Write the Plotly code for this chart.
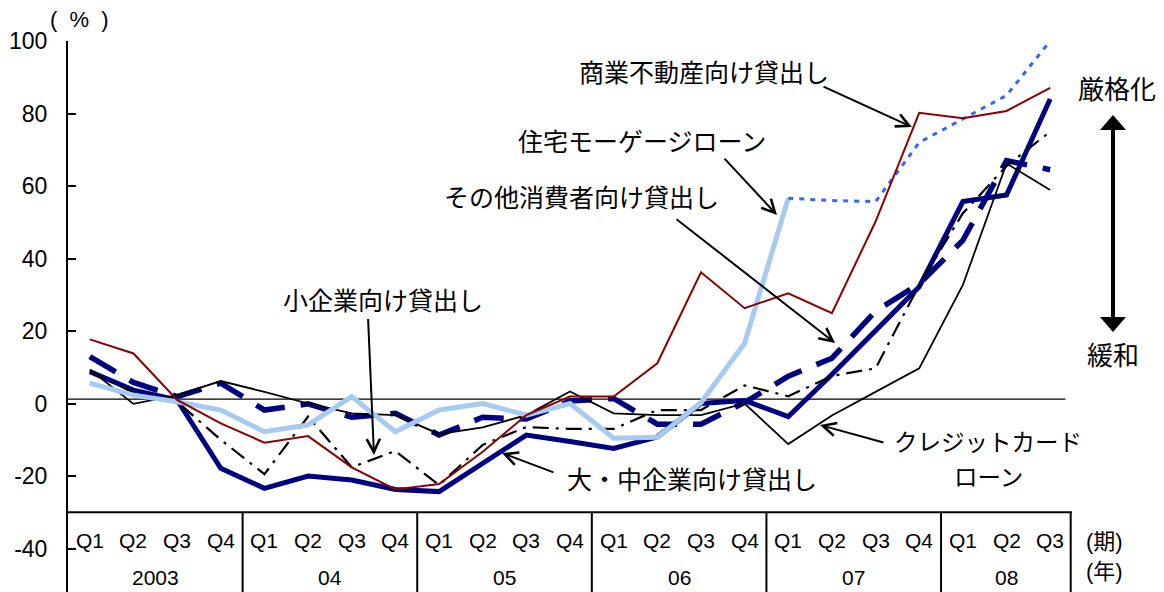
import plotly.graph_objects as go

# ---- data -------------------------------------------------------------
quarter_labels = ["Q1", "Q2", "Q3", "Q4"] * 5 + ["Q1", "Q2", "Q3"]
year_labels = ["2003", "04", "05", "06", "07", "08"]
quarters_per_year = [4, 4, 4, 4, 4, 3]

y_tick_values = [100, 80, 60, 40, 20, 0, -20, -40]
y_tick_text = ["100", "80", "60", "40", "20", "0", "-20", "-40"]

# 商業不動産向け貸出し
commercial_re = [17.7, 13.8, 1.0, -5.5, -10.8, -9.0, -17.6, -23.7, -22.2, -13.3, -3.2, 1.9,
                 1.9, 11.1, 36.2, 26.3, 30.4, 24.9, 50.2, 80.2, 78.7, 80.7, 87.1]
# 住宅モーゲージローン (2003Q1-2007Q1)
mortgage = [5.6, 2.3, 0.5, -1.8, -7.8, -5.9, 1.9, -7.8, -1.8, 0.0, -3.2, 0.0,
            -9.6, -9.3, 0.2, 16.6, 56.6]
# 住宅モーゲージローン (2007Q1-2008Q3)
mortgage_new = [56.6, 56.0, 55.7, 72.0, 78.5, 85.0, 100.0]
# その他消費者向け貸出し
other_consumer = [12.9, 5.8, 1.9, 5.6, -1.8, -0.1, -3.8, -2.7, -8.7, -3.8, -4.3, 0.7,
                  1.4, -5.7, -5.7, 0.3, 7.5, 12.5, 25.5, 33.0, 45.0, 67.0, 64.5]
# 小企業向け貸出し
small_firms = [9.0, 3.0, 0.5, -10.0, -19.5, -3.6, -17.6, -13.1, -22.5, -11.4, -6.5, -7.0,
               -7.0, -1.8, -1.8, 5.0, 2.0, 7.6, 9.7, 32.7, 52.5, 65.5, 75.0]
# 大・中企業向け貸出し
large_mid_firms = [8.8, 3.7, 1.0, -17.9, -23.4, -20.0, -21.1, -23.7, -24.3, -16.5, -8.7, -10.5,
                   -12.4, -9.2, 0.0, 0.8, -3.6, 8.0, 20.0, 32.2, 55.7, 57.5, 84.0]
# クレジットカードローン
credit_card = [9.4, -0.1, 2.3, 6.2, 3.2, 0.0, -2.7, -3.2, -8.4, -6.6, -3.2, 3.3,
               -2.7, -3.2, -3.2, 0.0, -11.2, -3.3, 3.2, 9.7, 32.7, 66.2, 58.9]

# ---- layout constants ---------------------------------------------------
W, H = 1164, 592
L, T, R = 68, 41, 92
PW, PH = W - L - R, H - T
Y_MIN, Y_MAX = -52, 100
N = len(quarter_labels)
x_idx = list(range(N))

LATIN = "Liberation Sans, Arial, sans-serif"
JP = "Noto Sans CJK JP, sans-serif"
NAVY = "#000080"


def px(x):
    return (x - L) / PW


def py(y):
    return (H - y) / PH


fig = go.Figure()


def add_line(xs, ys, color, width, dash="solid"):
    fig.add_trace(go.Scatter(x=xs, y=ys, mode="lines",
                             line=dict(color=color, width=width, dash=dash),
                             hoverinfo="skip", showlegend=False))


add_line(x_idx, large_mid_firms, NAVY, 5)
add_line(x_idx, other_consumer, NAVY, 5.5, "30px,16px")
add_line(x_idx, credit_card, "black", 1.8)
add_line(x_idx, small_firms, "black", 2.2, "16px,7px,3px,7px")
add_line(x_idx[:len(mortgage)], mortgage, "#A6CAF0", 5)
add_line(x_idx[N - len(mortgage_new):], mortgage_new, "#3366FF", 3, "5px,6px")
add_line(x_idx, commercial_re, "#8B0000", 2)

shapes = []
# reference line near zero
shapes.append(dict(type="line", xref="x", yref="y", x0=-0.5, x1=N - 0.65, y0=1.2, y1=1.2,
                   line=dict(color="black", width=1.3), layer="below"))
# category table under the plot
shapes.append(dict(type="line", xref="x", yref="y", x0=-0.5, x1=N - 0.5, y0=-30, y1=-30,
                   line=dict(color="black", width=2)))
pos = -0.5
for q in quarters_per_year:
    pos += q
    xx = min(pos, N - 0.53)
    shapes.append(dict(type="line", xref="x", yref="y", x0=xx, x1=xx, y0=-30, y1=Y_MIN,
                       line=dict(color="black", width=2)))

# double-headed arrow (厳格化 / 緩和)
ax_x = 1113
shapes.append(dict(type="line", xref="paper", yref="paper", x0=px(ax_x), x1=px(ax_x),
                   y0=py(128), y1=py(318), line=dict(color="black", width=4)))
shapes.append(dict(type="path", xref="paper", yref="paper",
                   path=f"M{px(ax_x - 13)},{py(130)} L{px(ax_x + 13)},{py(130)} L{px(ax_x)},{py(115)} Z",
                   fillcolor="black", line=dict(width=0)))
shapes.append(dict(type="path", xref="paper", yref="paper",
                   path=f"M{px(ax_x - 13)},{py(317)} L{px(ax_x + 13)},{py(317)} L{px(ax_x)},{py(332)} Z",
                   fillcolor="black", line=dict(width=0)))

annotations = []


def text_at(text, x, y, size, family, xref="paper", yref="paper"):
    annotations.append(dict(x=x, y=y, xref=xref, yref=yref, text=text, showarrow=False,
                            xanchor="center", yanchor="middle", borderpad=0,
                            font=dict(family=family, size=size, color="black")))


# quarter and year labels
for i, q in enumerate(quarter_labels):
    text_at(q, i, -37.7, 21, LATIN, "x", "y")
start = 0
for yl, q in zip(year_labels, quarters_per_year):
    text_at(yl, start + (q - 1) / 2, -47.9, 21, LATIN, "x", "y")
    start += q
text_at("(期)", px(1104), py(541), 22, LATIN + ", Noto Sans CJK JP")
text_at("(年)", px(1104), py(571), 22, LATIN + ", Noto Sans CJK JP")
text_at("(  %  )", px(79), py(19), 22, LATIN)


def label(text, x, y, size=25):
    text_at(text, px(x), py(y), size, JP)


def pointer(tail, head):
    annotations.append(dict(x=px(head[0]), y=py(head[1]), xref="paper", yref="paper",
                            ax=tail[0] - head[0], ay=tail[1] - head[1],
                            text=" ", font=dict(size=1), showarrow=True,
                            arrowhead=5, arrowwidth=2, arrowsize=1.3, arrowcolor="black"))


label("商業不動産向け貸出し", 704, 71)
pointer((822, 86), (912, 127))
label("住宅モーゲージローン", 642, 140)
pointer((723, 157), (777, 215))
label("その他消費者向け貸出し", 581, 196)
pointer((675, 218), (835, 343))
label("小企業向け貸出し", 383, 299)
pointer((368, 317), (374, 455))
label("大・中企業向け貸出し", 692, 478)
pointer((555, 473), (502, 453))
label("クレジットカード", 988, 441, 23.5)
label("ローン", 988, 476, 23.5)
pointer((885, 443), (820, 425))
label("厳格化", 1117, 87, 26)
label("緩和", 1113, 353, 26)

fig.update_layout(
    width=W, height=H,
    margin=dict(l=L, r=R, t=T, b=0, pad=0),
    paper_bgcolor="white", plot_bgcolor="white",
    showlegend=False,
    xaxis=dict(range=[-0.5, N - 0.5], showticklabels=False, showgrid=False,
               zeroline=False, showline=False, ticks=""),
    yaxis=dict(range=[Y_MIN, Y_MAX], tickvals=y_tick_values, ticktext=y_tick_text,
               ticks="inside", ticklen=8, tickwidth=2, tickcolor="black",
               showline=True, linewidth=2, linecolor="black",
               showgrid=False, zeroline=False, ticklabelstandoff=14,
               tickfont=dict(family=LATIN, size=23, color="black")),
    shapes=shapes,
    annotations=annotations,
)

fig.write_html("out.html")
